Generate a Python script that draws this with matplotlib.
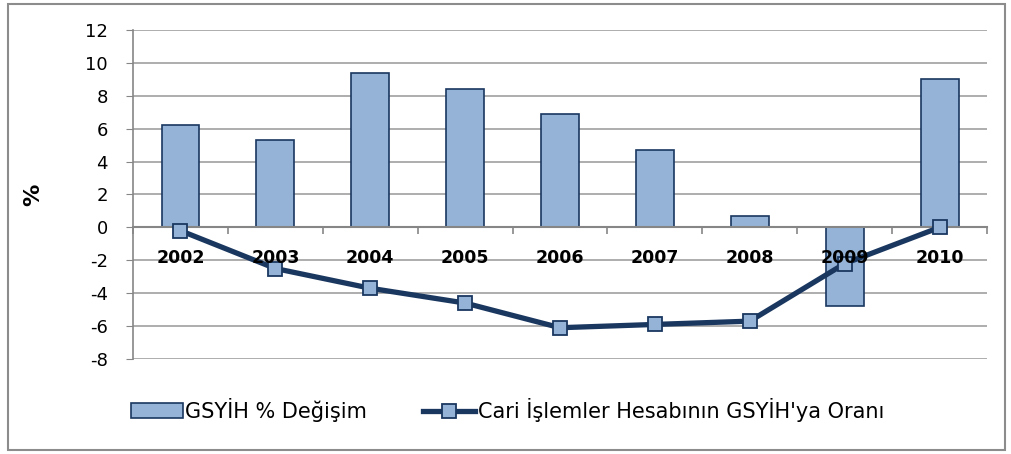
import numpy as np
import matplotlib.pyplot as plt
from matplotlib.patches import Rectangle

plt.rcParams['font.family'] = ['DejaVu Sans']
plt.rcParams['axes.unicode_minus'] = False

years = ['2002', '2003', '2004', '2005', '2006', '2007', '2008', '2009', '2010']
gdp_change = [6.2, 5.3, 9.4, 8.4, 6.9, 4.7, 0.7, -4.8, 9.0]
current_account = [-0.2, -2.5, -3.7, -4.6, -6.1, -5.9, -5.7, -2.2, 0.0]

bar_color = '#95B3D7'
navy = '#1A3760'
grid_color = '#A0A0A0'

fig = plt.figure(figsize=(10.11, 4.54), dpi=100)
ax = fig.add_axes([0.1316, 0.2093, 0.8447, 0.7246])

x = np.arange(len(years))
bars = ax.bar(x, gdp_change, width=0.4, color=bar_color, edgecolor=navy,
              linewidth=1.2, zorder=2, label='GSYİH % Değişim')
line, = ax.plot(x, current_account, color=navy, linewidth=3.8, marker='s',
                markersize=10, markerfacecolor=bar_color, markeredgecolor=navy,
                markeredgewidth=1.3, zorder=3,
                label="Cari İşlemler Hesabının GSYİH'ya Oranı")

ax.set_xlim(-0.5, len(years) - 0.5)
ax.set_ylim(-8, 12)
ax.set_yticks(np.arange(-8, 13, 2))
ax.tick_params(axis='y', labelsize=13, length=5, color='#868686', pad=13)
ax.yaxis.grid(True, color=grid_color, linewidth=1.2, zorder=0)
ax.set_axisbelow(True)

ax.spines['top'].set_visible(False)
ax.spines['right'].set_visible(False)
ax.spines['left'].set_color('#868686')
ax.spines['left'].set_linewidth(1.2)
ax.spines['bottom'].set_position(('data', 0))
ax.spines['bottom'].set_color('#868686')
ax.spines['bottom'].set_linewidth(1.5)

# category ticks at the boundaries, year labels just under the zero line
ax.set_xticks([])
ax.set_xticks(np.arange(-0.5, len(years)), minor=True)
ax.tick_params(axis='x', which='minor', length=5, color='#868686', width=1.2)
for i, yr in enumerate(years):
    ax.annotate(yr, (i, 0), xytext=(0, -22), textcoords='offset points',
                ha='center', va='center', fontsize=12.5, fontweight='bold',
                zorder=5)

ax.set_ylabel('%', fontsize=16, fontweight='bold', labelpad=30)

fig.legend(handles=[bars, line], loc='center', bbox_to_anchor=(0.502, 0.097),
           ncol=2, frameon=False, fontsize=15, handlelength=2.5,
           handletextpad=0.1, columnspacing=2.7)

fig.patches.append(Rectangle((0.008, 0.008), 0.986, 0.984, transform=fig.transFigure,
                             fill=False, edgecolor='#8C8C8C', linewidth=1.5))

fig.savefig('out.png', dpi=100)
